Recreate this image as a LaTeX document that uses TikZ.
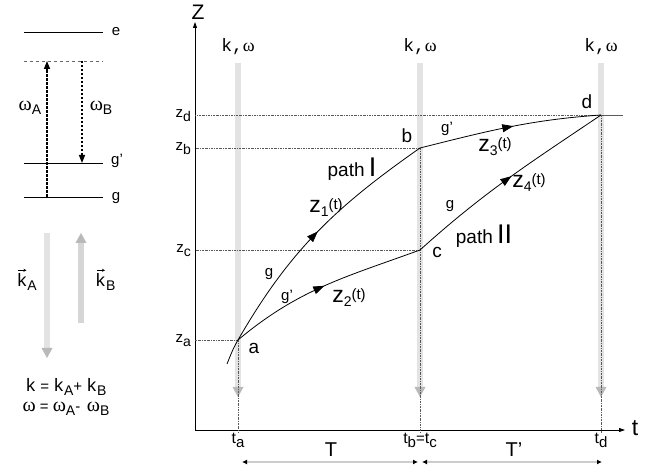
\documentclass[tikz,border=0pt]{standalone}
\usepackage{fontspec}
\setmainfont{Liberation Sans}
\newfontfamily\kfont{Liberation Mono}
\newfontfamily\gfont{Liberation Serif}
\usetikzlibrary{arrows.meta,decorations.markings}

\newcommand{\lo}[2][14]{\raisebox{-4pt}{\fontsize{#1}{#1}\selectfont #2}}
\newcommand{\hi}[2][15]{\raisebox{3pt}{\fontsize{#1}{#1}\selectfont #2}}
\newcommand{\om}{{\gfont ω}}
\newcommand{\fs}[2]{{\fontsize{#1}{#1}\selectfont #2}}

\begin{document}
\begin{tikzpicture}[x=1pt,y=1pt,
        lvl/.style={line width=0.8pt},
        trans/.style={line width=1.4pt,dash pattern=on 2.5pt off 1.5pt,-{Triangle[width=6pt,length=8pt]}},
        beam/.style={line width=6pt,draw=gray!22,-{Triangle[width=11pt,length=10pt,line width=0pt,color=gray!55]}},
        guide/.style={gray!70!black,line width=0.6pt,dash pattern=on 2pt off 1pt on 0.6pt off 1pt},
        traj/.style={line width=0.8pt},
        flow/.style={decoration={markings,mark=at position #1 with {\arrow{Triangle[width=8pt,length=11pt]}}},postaction={decorate}},
        span/.style={gray!40,line width=2pt,{Latex[black,length=5pt,width=5pt]}-{Latex[black,length=5pt,width=5pt]}},
        vecarrow/.style={line width=0.5pt,-{Stealth[length=3pt,width=3pt]}},
        lab/.style={font=\fontsize{15}{15}\selectfont,inner sep=1pt},
        pt/.style={font=\fontsize{19}{19}\selectfont,inner sep=1pt},
        kw/.style={font=\fontsize{18}{18}\selectfont\kfont,inner sep=1pt}]
    \useasboundingbox (0,0) rectangle (660,470);

    % Level scheme
    \draw[lvl] (24,438) -- (103,438);
    \draw[lvl,gray!80!black,dashed] (24,409) -- (103,409);
    \draw[lvl] (24,307) -- (103,307);
    \draw[lvl] (24,273) -- (103,273);
    \node[lab] (le) at (116,438) {e};
    \node[lab] (lgp) at (117,309) {g'};
    \node[lab] (lg) at (116,272) {g};
    \draw[trans] (47,273) -- (47,409);
    \draw[trans] (82,409) -- (82,307);
    \node[lab] (wa) at (30,362) {\fs{20}{\om}\lo{A}};
    \node[lab] (wb) at (101,362) {\fs{20}{\om}\lo{B}};

    % Counter-propagating beams
    \draw[beam] (47,237) -- (47,112);
    \draw[beam,draw=gray!32] (81,147) -- (81,237);
    \node[lab,anchor=east] (ka) at (38,188) {\fs{18}{\kfont k}\lo{A}};
    \node[lab,anchor=west] (kb) at (94,188) {\fs{18}{\kfont k}\lo{B}};
    \draw[vecarrow] ([xshift=3pt,yshift=2pt]ka.north west) -- ++(8,0);
    \draw[vecarrow] ([xshift=3pt,yshift=2pt]kb.north west) -- ++(8,0);
    \node[lab] (eqk) at (66,83) {\fs{18}{\kfont k} = \fs{18}{\kfont k}\lo{A}+ \fs{18}{\kfont k}\lo{B}};
    \node[lab] (eqw) at (66,61) {\fs{20}{\om} = \fs{20}{\om}\lo{A}- \,\fs{20}{\om}\lo{B}};

    % Axes
    \coordinate (o) at (195,40);
    \draw[line width=0.8pt,-{Triangle[width=4pt,length=6pt]}] (o) -- (195,448);
    \draw[line width=0.8pt,-{Triangle[width=4pt,length=6pt]}] (o) -- (625,40);
    \node[font=\fontsize{21}{21}\selectfont] (zax) at (198,458) {Z};
    \node[font=\fontsize{23}{23}\selectfont] (tax) at (635,42) {t};

    % Vertices
    \coordinate (s) at (227,106);
    \coordinate (a) at (238,130);
    \coordinate (b) at (420,322);
    \coordinate (c) at (420,220);
    \coordinate (d) at (601,355);

    % Pulses
    \foreach \x/\n in {238/1,420/2,601/3} {
        \draw[beam] (\x,407) -- (\x,73);
        \node[kw] (kw\n) at (\x,423) {k,\om};
    }

    % Guide lines
    \draw[guide] (d) -- (d -| o);
    \draw[gray!70!black,line width=0.6pt] (d) -- (623,355);
    \draw[guide] (b) -- (b -| o);
    \draw[guide] (c) -- (c -| o);
    \draw[guide] (a) -- (a -| o);
    \draw[guide] (a) -- ([yshift=-3pt]a |- o);
    \draw[guide] (b) -- ([yshift=-3pt]b |- o);
    \draw[guide] (d) -- ([yshift=-3pt]d |- o);

    % Trajectories
    \draw[traj,flow=0.55] (s) to[out=68,in=240] (a) to[out=60,in=215] (b);
    \draw[traj,flow=0.5] (a) to[out=40,in=200] (c);
    \draw[traj,flow=0.52] (b) to[out=14,in=184] (d);
    \draw[traj,flow=0.52] (c) to[out=42,in=214] (d);

    % Labels
    \node[pt] (la) at (254,122) {a};
    \node[pt] (lb) at (407,334) {b};
    \node[pt] (lc) at (437,218) {c};
    \node[pt] (ld) at (587,368) {d};
    \node[lab,anchor=east] (zd) at (192,354) {z\lo{d}};
    \node[lab,anchor=east] (zb) at (192,321) {z\lo{b}};
    \node[lab,anchor=east] (zc) at (192,219) {z\lo{c}};
    \node[lab,anchor=east] (za) at (192,129) {z\lo{a}};
    \node[lab] (p1) at (352,301) {\fs{19}{path} \fs{27}{I}};
    \node[lab] (p2) at (484,234) {\fs{19}{path} \fs{27}{II}};
    \node[lab] (z1) at (326,262) {\fs{23}{z}\lo{1}\hi{(t)}};
    \node[lab] (z2) at (349,172) {\fs{23}{z}\lo{2}\hi{(t)}};
    \node[lab] (z3) at (495,323) {\fs{23}{z}\lo{3}\hi{(t)}};
    \node[lab] (z4) at (529,287) {\fs{23}{z}\lo{4}\hi{(t)}};
    \node[lab] (g1) at (269,196) {g};
    \node[lab] (g2) at (287,173) {g'};
    \node[lab] (g3) at (447,341) {g'};
    \node[lab] (g4) at (450,264) {g};
    \node[lab] (ta) at (238,30) {\fs{16}{t}\lo[15]{a}};
    \node[lab] (tbc) at (420,30) {\fs{16}{t}\lo[15]{b}=\fs{16}{t}\lo[15]{c}};
    \node[lab] (td) at (601,30) {\fs{16}{t}\lo[15]{d}};

    % Intervals
    \draw[span] ([xshift=4pt]ta |- 0,8) -- ([xshift=-2pt]tbc |- 0,8);
    \draw[span] ([xshift=2pt]tbc |- 0,8) -- ([xshift=1pt]td |- 0,8);
    \node[font=\fontsize{20}{20}\selectfont] (T1) at (331,20) {T};
    \node[font=\fontsize{20}{20}\selectfont] (T2) at (514,20) {T'};
\end{tikzpicture}
\end{document}
